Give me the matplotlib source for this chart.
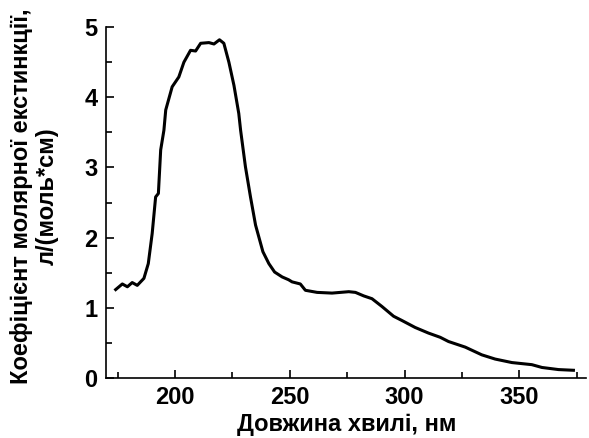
import matplotlib
matplotlib.use("Agg")
import matplotlib.pyplot as plt
from matplotlib.ticker import MultipleLocator

wavelength = [174.2, 177.1, 179.3, 181.4, 183.6, 186.5, 188.4, 190.1, 191.6, 192.8,
              193.8, 195.2, 196.0, 198.8, 201.7, 203.9, 206.8, 209.0, 211.2, 214.8,
              217.0, 219.4, 221.3, 223.5, 225.7, 227.8, 228.6, 230.7, 232.9, 235.1,
              238.3, 240.9, 243.4, 246.7, 249.5, 251.0, 254.6, 256.8, 261.9, 268.4,
              275.7, 278.6, 282.2, 285.8, 290.1, 295.2, 298.8, 304.6, 310.4, 315.5,
              319.1, 326.4, 333.6, 339.4, 346.7, 355.4, 359.8, 367.0, 373.5]
absorb = [1.26, 1.34, 1.30, 1.36, 1.32, 1.42, 1.63, 2.06, 2.58, 2.63,
          3.25, 3.53, 3.82, 4.15, 4.29, 4.50, 4.67, 4.66, 4.77, 4.78,
          4.76, 4.82, 4.77, 4.50, 4.17, 3.77, 3.53, 3.01, 2.58, 2.18,
          1.80, 1.63, 1.51, 1.44, 1.40, 1.37, 1.34, 1.25, 1.22, 1.21,
          1.23, 1.22, 1.17, 1.13, 1.02, 0.88, 0.82, 0.72, 0.64, 0.58,
          0.52, 0.44, 0.33, 0.27, 0.22, 0.19, 0.15, 0.12, 0.11]

xlabel = "Довжина хвилі, нм"
ylabel = "Коефіцієнт молярної екстинкції,\nл/(моль*см)"

plt.rcParams['font.family'] = ['Liberation Sans', 'DejaVu Sans']
plt.rcParams['font.weight'] = 'bold'
FS = 17

fig = plt.figure(figsize=(5.89, 4.38), dpi=100)
ax = fig.add_axes([0.18, 0.137, 0.815, 0.801])
ax.plot(wavelength, absorb, color='black', lw=2.2)
ax.set_xlim(170, 379)
ax.set_ylim(0, 5)
ax.spines['top'].set_visible(False)
ax.spines['right'].set_visible(False)
ax.spines['left'].set_linewidth(1.2)
ax.spines['bottom'].set_linewidth(1.2)
ax.xaxis.set_major_locator(MultipleLocator(50))
ax.xaxis.set_minor_locator(MultipleLocator(25))
ax.yaxis.set_major_locator(MultipleLocator(1))
ax.yaxis.set_minor_locator(MultipleLocator(0.5))
ax.tick_params(which='both', direction='in', width=1.2, labelsize=FS)
ax.tick_params(which='major', length=6)
ax.tick_params(which='minor', length=4)
ax.tick_params(axis='x', pad=6)
ax.tick_params(axis='y', pad=6)
for lab in ax.get_xticklabels() + ax.get_yticklabels():
    lab.set_fontweight('bold')
fig.text(347 / 589, 1 - 431 / 438, xlabel, fontsize=FS, fontweight='bold',
         ha='center', va='baseline')
fig.text(34 / 589, 1 - 196 / 438, ylabel, fontsize=FS, fontweight='bold',
         rotation=90, ha='center', va='center', multialignment='center',
         linespacing=1.15)
fig.savefig("out.png", dpi=100)
